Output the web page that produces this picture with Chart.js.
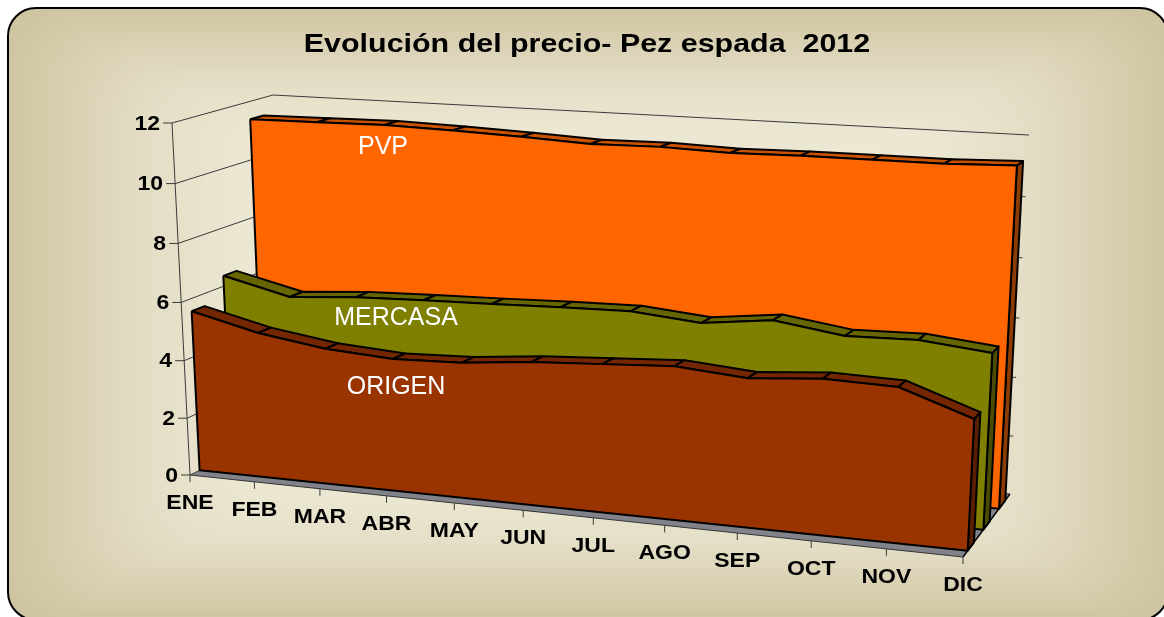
<!DOCTYPE html>
<html><head><meta charset="utf-8">
<style>html,body{margin:0;padding:0;background:#fff}canvas{display:block}</style>
<script src="https://cdn.jsdelivr.net/npm/chart.js@4"></script>
</head><body><canvas id="c" width="1164" height="617"></canvas>
<script>
const titleText = 'Evolución del precio- Pez espada  2012';
const months = ['ENE','FEB','MAR','ABR','MAY','JUN','JUL','AGO','SEP','OCT','NOV','DIC'];
const yTicks = [0,2,4,6,8,10,12];
const pvp     = [11.39,11.42,11.45,11.39,11.31,11.20,11.23,11.16,11.20,11.20,11.20,11.27];
const mercasa = [6.36,5.80,5.97,6.04,6.09,6.16,6.20,5.99,6.26,5.93,5.98,5.75];
const origen  = [5.57,5.01,4.66,4.51,4.58,4.80,4.93,5.06,4.87,5.05,4.99,4.19];

// 3D view: frame corners as seen on the page (front/back, bottom/top, left/right)
const FBL=[190,475],FBR=[963,557],FTL=[172,123],FTR=[982,167];
const BBL=[286,428],BBR=[1010,494],BTL=[273,95],BTR=[1029,135];
const lerp=(a,b,t)=>[a[0]+(b[0]-a[0])*t,a[1]+(b[1]-a[1])*t];
const persp=(t,k)=>t/(t+k*(1-t));
function project(i,val,w){
  const u=persp(i/11,1.1-0.07*w),v=persp(val/12,1.04);
  const f=lerp(lerp(FBL,FBR,u),lerp(FTL,FTR,u),v);
  const b=lerp(lerp(BBL,BBR,u),lerp(BTL,BTR,u),v);
  const p=lerp(f,b,w);
  return {x:p[0],y:p[1]};
}
const marks=[];
function poly(pts,fill,stroke,lw){
  marks.push({data:pts,showLine:true,pointRadius:0,borderColor:stroke||'transparent',
    borderWidth:lw==null?2:lw,backgroundColor:fill||'transparent',fill:fill?'shape':false,
    tension:0,borderJoinStyle:'round',clip:false});
}
function closed(pts){return pts.concat([pts[0]]);}
// floor
poly(closed([project(0,0,0),project(11,0,0),project(11,0,1),project(0,0,1)]),'#82828a',null);
poly([project(11,0,0),project(11,0,1)],null,'#000',1.4);
poly([project(0,0,0),project(11,0,0)],null,'#333',1);
// walls: gridlines, frame and ticks
const GRID='#3a3a3a';
yTicks.forEach(v=>{
  poly([project(0,v,0),project(0,v,1),project(11,v,1)],null,GRID,1);
});
poly([project(0,12,0),project(0,0,0)],null,GRID,1);
// series, back to front
function series(vals,wf,wb,cFront,cTop,cSide){
  const n=vals.length-1;
  poly(closed([project(n,0,wf),project(n,vals[n],wf),project(n,vals[n],wb),project(n,0,wb)]),cSide,'#000');
  for(let i=0;i<n;i++){
    poly(closed([project(i,vals[i],wf),project(i+1,vals[i+1],wf),project(i+1,vals[i+1],wb),project(i,vals[i],wb)]),cTop,'#000');
  }
  const front=vals.map((v,i)=>project(i,v,wf));
  front.push(project(n,0,wf),project(0,0,wf));
  poly(closed(front),cFront,'#000');
}
series(pvp,0.767,0.9,'#FF6600','#C85200','#8C3C00');
series(mercasa,0.433,0.567,'#808000','#666600','#4C4C00');
series(origen,0.1,0.233,'#993300','#732600','#5A1E00');
marks.forEach((m,i)=>{m.order=marks.length-i;});

function stretched(ctx,text,x,y,font,color,align,sx){
  ctx.save();ctx.translate(x,y);ctx.scale(sx,1);
  ctx.font=font;ctx.fillStyle=color;ctx.textAlign=align;ctx.textBaseline='middle';
  ctx.fillText(text,0,0);ctx.restore();
}
const shade=[[0,[240,236,218]],[.6,[236,231,210]],[.77,[227,221,197]],[1,[208,197,162]]];
function shadeAt(t){
  for(let i=1;i<shade.length;i++){
    if(t<=shade[i][0]){
      const a=shade[i-1],b=shade[i],f=(t-a[0])/(b[0]-a[0]);
      return 'rgb('+a[1].map((v,j)=>Math.round(v+(b[1][j]-v)*f)).join(',')+')';
    }
  }
  return 'rgb(208,197,162)';
}
const backdrop={id:'backdrop',beforeDraw(chart){
  const c=chart.ctx,L=8,T=8,R=1168,B=620,r=28,cx=(L+R)/2,cy=(T+B)/2,hw=(R-L)/2,hh=(B-T)/2;
  c.save();c.fillStyle='#fff';c.fillRect(0,0,1164,617);
  c.beginPath();c.roundRect(L,T,R-L,B-T,r);c.fillStyle=shadeAt(1);c.fill();c.save();c.clip();
  const steps=300;
  for(let s=steps;s>0;s--){
    const t=s/steps;
    c.fillStyle=shadeAt(t);
    c.beginPath();c.roundRect(cx-hw*t,cy-hh*t,2*hw*t,2*hh*t,60*t);c.fill();
  }
  c.restore();
  c.lineWidth=2;c.strokeStyle='#000';c.beginPath();c.roundRect(L,T,R-L,B-T,r);c.stroke();
  c.restore();
}};
const labels={id:'labels',afterDatasetsDraw(chart){
  const c=chart.ctx,X=chart.scales.x,Y=chart.scales.y;
  const px=p=>[X.getPixelForValue(p.x),Y.getPixelForValue(p.y)];
  stretched(c,titleText,X.getPixelForValue(587),Y.getPixelForValue(45),'bold 26px "Liberation Sans"','#000','center',1.17);
  const bold='bold 20px "Liberation Sans"';
  yTicks.forEach(v=>{
    const p=px(project(0,v,0));
    c.strokeStyle=GRID;c.lineWidth=1;c.beginPath();c.moveTo(p[0]-9,p[1]);c.lineTo(p[0],p[1]);c.stroke();
    stretched(c,String(v),p[0]-12,p[1]+1,bold,'#000','right',1.15);
  });
  months.forEach((m,i)=>{
    const p=px(project(i,0,0));
    c.strokeStyle=GRID;c.lineWidth=1;c.beginPath();c.moveTo(p[0],p[1]);c.lineTo(p[0],p[1]+7);c.stroke();
    stretched(c,m,p[0],p[1]+28.5,bold,'#000','center',1.15);
  });
  const thin='25px "Liberation Sans"';
  [['PVP',383,147],['MERCASA',396,318],['ORIGEN',396,387]].forEach(a=>{
    stretched(c,a[0],X.getPixelForValue(a[1]),Y.getPixelForValue(a[2]),thin,'#fff','center',1);
  });
}};
new Chart(document.getElementById('c'),{
  type:'scatter',
  data:{datasets:marks},
  plugins:[backdrop,labels],
  options:{
    responsive:false,animation:false,
    layout:{padding:0},
    plugins:{legend:{display:false},tooltip:{enabled:false},title:{display:false}},
    scales:{
      x:{type:'linear',display:false,min:0,max:1164},
      y:{type:'linear',display:false,min:0,max:617,reverse:true}
    }
  }
});
</script></body></html>
